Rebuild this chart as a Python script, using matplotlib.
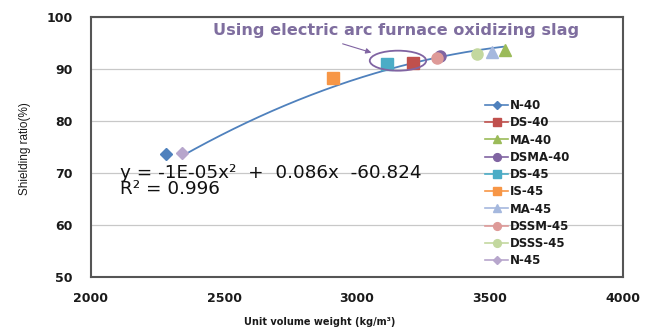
import numpy as np
import matplotlib
matplotlib.use("Agg")
import matplotlib.pyplot as plt
from matplotlib.patches import Ellipse

series = ["N-40", "DS-40", "MA-40", "DSMA-40", "DS-45", "IS-45", "MA-45", "DSSM-45", "DSSS-45", "N-45"]
unit_weight = [2282, 3211, 3556, 3312, 3113, 2910, 3508, 3300, 3451, 2342]
shielding = [73.6, 91.2, 93.7, 92.5, 91.0, 88.3, 93.3, 92.1, 92.9, 73.8]
markers = ["D", "s", "^", "o", "s", "s", "^", "o", "o", "D"]
colors = ["#4F81BD", "#C0504D", "#9BBB59", "#8064A2", "#4BACC6", "#F79646",
          "#A5B8DE", "#DE9A98", "#C3D89F", "#B7A6CC"]
msizes = [6.5, 8, 8.5, 8, 8, 8, 8.5, 8, 8, 6.5]

# quadratic trend line as drawn in the picture (coefficients a, b, c) and its x extent
trend_coef = [-9.41e-6, 0.07285, -45.745]
trend_range = [2341, 3549]

fig = plt.figure(figsize=(6.56, 3.29), dpi=100)
ax = fig.add_axes([91/656, 1-277/329, (623-91)/656, (277-17)/329])

for name, x, y, m, c, s in zip(series, unit_weight, shielding, markers, colors, msizes):
    ax.plot([x], [y], marker=m, color=c, markersize=s, linestyle="-", lw=1.2,
            label=name, zorder=3)

xt = np.linspace(trend_range[0], trend_range[1], 200)
ax.plot(xt, np.polyval(trend_coef, xt), color="#4F81BD", lw=1.3, zorder=2)

ax.set_xlim(2000, 4000)
ax.set_ylim(50, 100)
ax.set_xticks([2000, 2500, 3000, 3500, 4000])
ax.set_yticks([50, 60, 70, 80, 90, 100])
ax.yaxis.grid(True, color="#C8C8C8", lw=0.9)
ax.set_axisbelow(True)
ax.tick_params(length=0)
for lab in ax.get_xticklabels() + ax.get_yticklabels():
    lab.set_fontweight("bold")
    lab.set_fontsize(9)
    lab.set_color("#1a1a1a")
ax.tick_params(axis="x", pad=11)
ax.tick_params(axis="y", pad=13)
for sp in ax.spines.values():
    sp.set_color("#555555")
    sp.set_linewidth(1.5)

fig.text(320/656, 1-322/329, "Unit volume weight (kg/m\u00b3)", ha="center", va="center",
         fontsize=7, fontweight="bold", color="#1a1a1a")
fig.text(25/656, 1-149/329, "Shielding ratio(%)", rotation=90, ha="center", va="center",
         fontsize=8.5, family="Liberation Sans", color="#1a1a1a")

fig.text(120/656, 1-181/329, "y = -1E-05x\u00b2  +  0.086x  -60.824\nR\u00b2 = 0.996",
         ha="left", va="center", fontsize=13.2, color="#111111", linespacing=0.9)

fig.text(213/656, 1-31/329, "Using electric arc furnace oxidizing slag",
         ha="left", va="center", fontsize=11.6, fontweight="bold", color="#7F6E9F")

ell = Ellipse((3154, 91.6), 212, 3.85, fill=False, edgecolor="#8064A2", lw=1.3, zorder=4)
ax.add_patch(ell)
ax.annotate("", xy=(3064, 93.0), xytext=(2936, 95.0),
            arrowprops=dict(arrowstyle="-|>", color="#8064A2", lw=0.8, mutation_scale=8))

leg = ax.legend(loc="upper left", bbox_to_anchor=(485/656, 1-99/329),
                bbox_transform=fig.transFigure, frameon=False, fontsize=8.5,
                handlelength=1.95, handletextpad=0.15, labelspacing=0.36,
                borderpad=0, borderaxespad=0, markerscale=0.7)
for t in leg.get_texts():
    t.set_fontweight("bold")
    t.set_color("#1a1a1a")

fig.savefig("out.png", dpi=100)
